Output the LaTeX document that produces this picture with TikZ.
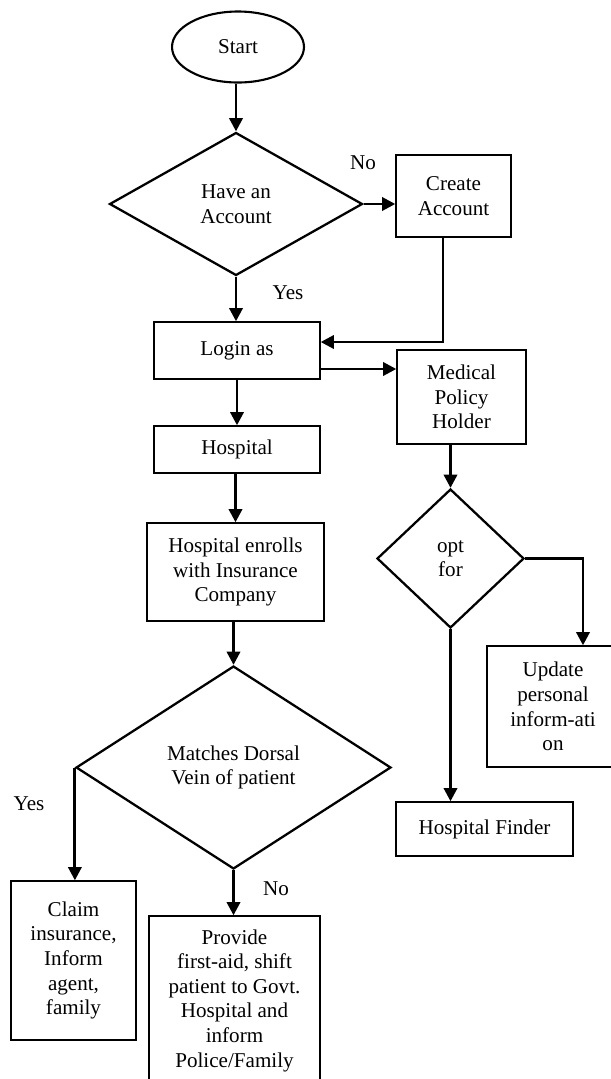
\documentclass[tikz,border=0pt]{standalone}
\usepackage{fontspec}
\setmainfont{Liberation Serif}
\usetikzlibrary{shapes.geometric}
\usetikzlibrary{arrows.meta}
\newcommand{\flowfont}{\fontsize{12}{14}\selectfont}
\tikzset{
    common/.style={draw, align=center, inner sep=1pt, font=\flowfont},
    process/.style={common, rectangle, line width=0.8pt},
    terminal/.style={common, ellipse, line width=1.2pt},
    decision/.style={common, diamond, line width=1.3pt, inner sep=0pt},
    answer/.style={font=\flowfont, inner sep=1pt},
    flow/.style={-{Triangle[length=7.5pt, width=7.5pt]}, line width=1.6pt},
    joint/.style={line width=1.6pt}
}

\begin{document}
\begin{tikzpicture}[x=0.02cm, y=-0.02cm]
    \useasboundingbox (0,0) rectangle (611,1079);

    \node[terminal, minimum width=2.64cm, minimum height=1.42cm] (start) at (238,47) {Start};
    \node[decision, minimum width=5.06cm, minimum height=2.86cm] (have) at (236,204) {Have an\\Account};
    \node[process, minimum width=2.30cm, minimum height=1.64cm] (create) at (453.5,196) {Create\\Account};
    \node[process, minimum width=3.32cm, minimum height=1.14cm] (login) at (237,350.5) {Login as};
    \node[process, minimum width=2.58cm, minimum height=1.88cm] (medical) at (461.5,397) {Medical\\Policy\\Holder};
    \node[process, minimum width=3.32cm, minimum height=0.94cm] (hospital) at (237,449.5) {Hospital};
    \node[process, minimum width=3.54cm, minimum height=1.96cm] (enrolls) at (235.5,572) {Hospital enrolls\\with Insurance\\Company};
    \node[decision, minimum width=2.94cm, minimum height=2.78cm] (opt) at (450.5,558.5) {opt\\for};
    \node[process, minimum width=2.64cm, minimum height=2.42cm] (update) at (553,706.5) {Update\\personal\\inform-ati\\on};
    \node[decision, minimum width=6.30cm, minimum height=4.06cm] (match) at (233.5,767.5) {Matches Dorsal\\Vein of patient};
    \node[process, minimum width=3.54cm, minimum height=1.08cm] (finder) at (484.5,829) {Hospital Finder};
    \node[process, minimum width=2.50cm, minimum height=3.18cm] (claim) at (73.5,960.5) {Claim\\insurance,\\Inform\\agent,\\family};
    \node[process, minimum width=3.42cm, minimum height=3.38cm] (provide) at (234.5,1000.5) {Provide\\first-aid, shift\\patient to Govt.\\Hospital and\\inform\\Police/Family};

    \node[answer] (have-no) at (363,163) {No};
    \node[answer] (have-yes) at (288,293) {Yes};
    \node[answer] (match-yes) at (29,804) {Yes};
    \node[answer] (match-no) at (276,889) {No};

    \draw[flow] (start.south -| have.north) -- (have.north);
    \draw[flow] (have.east) -- (have.east -| create.west);
    \draw[flow] (have.south) -- (have.south |- login.north);
    \draw[flow] ([xshift=-0.21cm]create.south) |- ([yshift=0.17cm]login.east);
    \draw[flow] ([yshift=-0.37cm]login.east) -- ([yshift=-0.37cm]login.east -| medical.west);
    \draw[flow] (login) -- (hospital);
    \draw[flow] (hospital.south -| enrolls.north) -- (enrolls.north);
    \draw[flow] (enrolls.south -| match.north) -- (match.north);
    \draw[flow] (medical.south -| opt.north) -- (opt.north);
    \draw[flow] (opt.east) -| ([xshift=0.6cm]update.north);
    \draw[flow] (opt.south) -- (opt.south |- finder.north);
    \draw[flow] (match.west) -- (match.west |- claim.north);
    \draw[flow] (match.south) -- (match.south |- provide.north);
\end{tikzpicture}
\end{document}
